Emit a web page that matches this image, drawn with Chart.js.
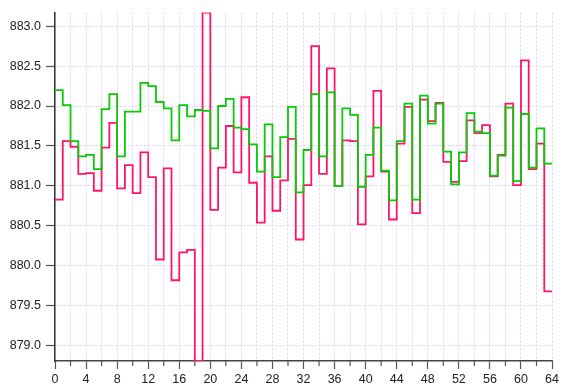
<!DOCTYPE html>
<html>
<head>
<meta charset="utf-8">
<script src="https://cdn.jsdelivr.net/npm/chart.js@4/dist/chart.umd.min.js"></script>
<style>
  html, body { margin: 0; padding: 0; background: #fff; }
  #wrap { width: 562px; height: 388px; }
</style>
</head>
<body>
<div id="wrap"><canvas id="chart" width="562" height="388"></canvas></div>
<script>
// step values, one per unit interval 0..63
const greenValues = [
  882.20, 882.01, 881.56, 881.37, 881.39, 881.21, 881.96, 882.15, 881.37, 881.93,
  881.93, 882.29, 882.25, 882.05, 881.97, 881.57, 882.01, 881.87, 881.95, 881.94,
  881.47, 882.00, 882.09, 881.73, 881.71, 881.52, 881.18, 881.77, 881.11, 881.61,
  881.99, 880.92, 881.45, 882.15, 881.37, 882.17, 881.00, 881.97, 881.89, 880.99,
  881.39, 881.73, 881.19, 880.82, 881.56, 882.03, 880.83, 882.13, 881.78, 882.03,
  881.43, 881.02, 881.42, 881.91, 881.68, 881.66, 881.13, 881.38, 881.98, 881.06,
  881.90, 881.23, 881.72, 881.28
]
const pinkValues = [
  880.83, 881.56, 881.49, 881.15, 881.16, 880.94, 881.48, 881.79, 880.97, 881.26,
  880.91, 881.42, 881.11, 880.08, 881.22, 879.82, 880.17, 880.20, 878.81, 883.17,
  880.70, 881.23, 881.75, 881.17, 882.11, 881.04, 880.54, 881.37, 880.69, 881.07,
  881.59, 880.33, 881.01, 882.75, 881.15, 882.47, 881.00, 881.57, 881.56, 880.52,
  881.12, 882.19, 881.18, 880.58, 881.53, 881.99, 880.66, 882.08, 881.81, 882.04,
  881.30, 881.05, 881.31, 881.82, 881.66, 881.76, 881.12, 881.39, 882.03, 881.01,
  882.57, 881.21, 881.53, 879.68
]
const yTickValues = [879.0, 879.5, 880.0, 880.5, 881.0, 881.5, 882.0, 882.5, 883.0]
const xMin = 0
const xMax = 64
const xStep = 2   // grid / minor ticks
const xLabelStep = 4

const axisColor = '#555'
const gridColor = '#d2d2f4'

// turn a value list into step points, last value held to the end
function toSteps(values) {
  const pts = values.map((v, i) => ({ x: i, y: v }))
  pts.push({ x: values.length, y: values[values.length - 1] })
  return pts
}

const allValues = greenValues.concat(pinkValues)
const yMin = Math.min(...allValues)
const yMax = Math.max(...allValues)

// short minor tick marks under the x axis
const minorTicks = {
  id: 'minorTicks',
  afterDraw(chart) {
    const scale = chart.scales.x
    const c = chart.ctx
    c.save()
    c.strokeStyle = axisColor
    c.lineWidth = 1.2
    for (let v = xMin; v <= xMax; v += xStep) {
      if (v % xLabelStep === 0) continue
      const px = scale.getPixelForValue(v)
      c.beginPath()
      c.moveTo(px, scale.top)
      c.lineTo(px, scale.top + 5)
      c.stroke()
    }
    c.restore()
  }
}

Chart.defaults.font.family = '"Liberation Sans", Arial, sans-serif'
Chart.defaults.font.size = 12.5
Chart.defaults.color = '#222'

const ctx = document.getElementById('chart').getContext('2d')
new Chart(ctx, {
  type: 'line',
  data: {
    datasets: [
      {
        label: 'green',
        data: toSteps(greenValues),
        borderColor: '#0ac80a',
        borderWidth: 1.8,
        stepped: true,
        pointRadius: 0,
        fill: false,
      },
      {
        label: 'pink',
        data: toSteps(pinkValues),
        borderColor: '#ff1468',
        borderWidth: 1.8,
        stepped: true,
        pointRadius: 0,
        fill: false,
      },
    ],
  },
  options: {
    responsive: false,
    animation: false,
    events: [],
    layout: { padding: { top: 7, right: 7, left: 0, bottom: 0 } },
    plugins: {
      legend: { display: false },
      tooltip: { enabled: false },
    },
    scales: {
      x: {
        type: 'linear',
        min: xMin,
        max: xMax,
        bounds: 'data',
        afterFit: (s) => { s.height = 27 },
        grid: {
          color: gridColor,
          lineWidth: 1,
          tickLength: 8,
          tickWidth: 1.2,
          tickColor: (c) => (c.tick && c.tick.value % xLabelStep === 0 ? axisColor : 'rgba(0,0,0,0)'),
        },
        border: { color: '#444', width: 1.5, dash: [2, 2] },
        ticks: {
          stepSize: xStep,
          autoSkip: false,
          maxRotation: 0,
          padding: 3,
          callback: (v) => (v % xLabelStep === 0 ? String(v) : ''),
        },
      },
      y: {
        type: 'linear',
        min: yMin,
        max: yMax,
        bounds: 'data',
        afterFit: (s) => { s.width = 55 },
        afterBuildTicks: (s) => { s.ticks = yTickValues.map((v) => ({ value: v })) },
        grid: {
          color: gridColor,
          lineWidth: 1,
          tickLength: 9,
          tickWidth: 1.2,
          tickColor: axisColor,
        },
        border: { color: '#333', width: 1.5, dash: [2, 2] },
        ticks: {
          autoSkip: false,
          padding: 5,
          callback: (v) => v.toFixed(1),
        },
      },
    },
  },
  plugins: [minorTicks],
})
</script>
</body>
</html>
